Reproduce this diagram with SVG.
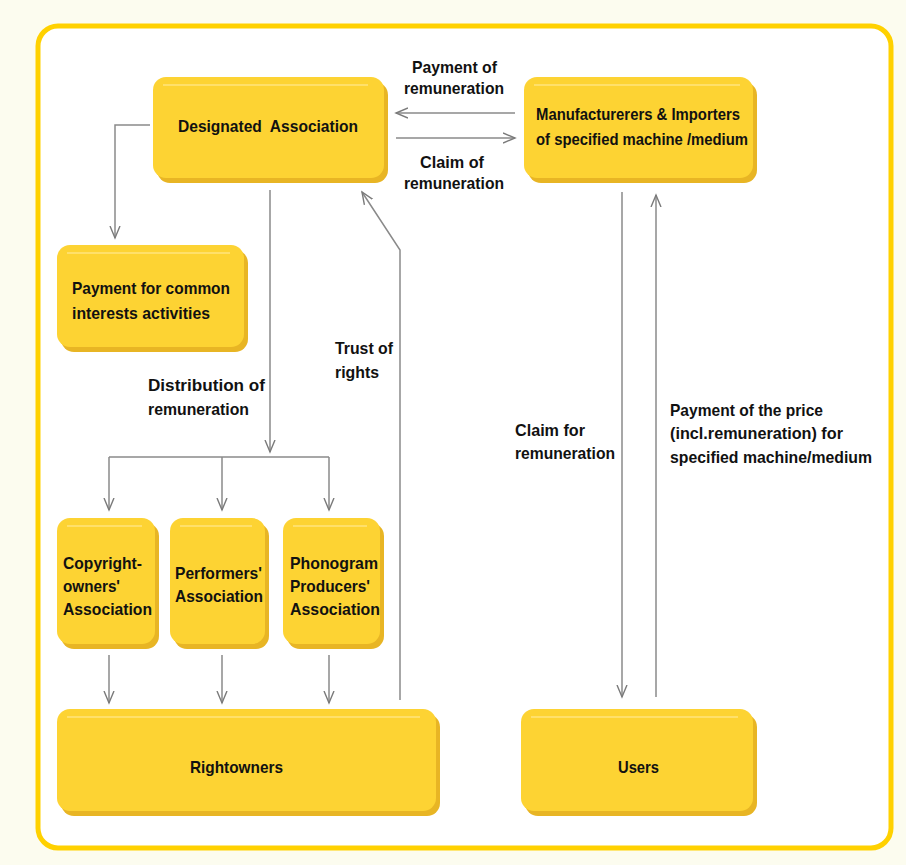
<svg xmlns="http://www.w3.org/2000/svg" width="906" height="865" viewBox="0 0 906 865">
<defs>
<style>
.bg{fill:#FCFCEF}
.frame{fill:#FFFFFF;stroke:#FFD100;stroke-width:5}
.back{fill:#E8B524}
.face{fill:#FDD333}
.hl{stroke:#FFE47E;stroke-width:1.5;fill:none}
.t{font-family:"Liberation Sans",Arial,sans-serif;font-weight:bold;font-size:17px;fill:#111}
.c{stroke:#8A8A8A;stroke-width:1.5;fill:none}
</style>
<marker id="ah" markerUnits="userSpaceOnUse" markerWidth="16" markerHeight="16" refX="12" refY="5" orient="auto" viewBox="0 0 16 10">
<path d="M0,0 L12,5 L0,10" fill="none" stroke="#7A7A7A" stroke-width="1.4"/>
</marker>
</defs>
<rect class="bg" x="0" y="0" width="906" height="865"/>
<rect class="frame" x="38" y="26" width="853" height="822" rx="20"/>

<g id="connectors">
<line class="c" x1="515" y1="113" x2="396" y2="113" marker-end="url(#ah)"/>
<line class="c" x1="396" y1="138" x2="515" y2="138" marker-end="url(#ah)"/>
<polyline class="c" points="150,125 115,125 115,238" marker-end="url(#ah)"/>
<line class="c" x1="270" y1="190" x2="270" y2="452" marker-end="url(#ah)"/>
<line class="c" x1="109" y1="457" x2="329" y2="457"/>
<line class="c" x1="109" y1="457" x2="109" y2="510" marker-end="url(#ah)"/>
<line class="c" x1="222" y1="457" x2="222" y2="510" marker-end="url(#ah)"/>
<line class="c" x1="329" y1="457" x2="329" y2="510" marker-end="url(#ah)"/>
<line class="c" x1="109" y1="655" x2="109" y2="703" marker-end="url(#ah)"/>
<line class="c" x1="222" y1="655" x2="222" y2="703" marker-end="url(#ah)"/>
<line class="c" x1="329" y1="655" x2="329" y2="703" marker-end="url(#ah)"/>
<polyline class="c" points="400,700 400,250 362,192" marker-end="url(#ah)"/>
<line class="c" x1="622" y1="192" x2="622" y2="697" marker-end="url(#ah)"/>
<line class="c" x1="656" y1="697" x2="656" y2="195" marker-end="url(#ah)"/>
<text class="t" x="412" y="73" textLength="85" lengthAdjust="spacingAndGlyphs">Payment of</text>
<text class="t" x="404" y="94" textLength="100" lengthAdjust="spacingAndGlyphs">remuneration</text>
<text class="t" x="420" y="168" textLength="64" lengthAdjust="spacingAndGlyphs">Claim of</text>
<text class="t" x="404" y="189" textLength="100" lengthAdjust="spacingAndGlyphs">remuneration</text>
<text class="t" x="335" y="354" textLength="58" lengthAdjust="spacingAndGlyphs">Trust of</text>
<text class="t" x="335" y="378" textLength="44" lengthAdjust="spacingAndGlyphs">rights</text>
<text class="t" x="148" y="391" textLength="117" lengthAdjust="spacingAndGlyphs">Distribution of</text>
<text class="t" x="148" y="415" textLength="101" lengthAdjust="spacingAndGlyphs">remuneration</text>
<text class="t" x="515" y="436" textLength="70" lengthAdjust="spacingAndGlyphs">Claim for</text>
<text class="t" x="515" y="459" textLength="100" lengthAdjust="spacingAndGlyphs">remuneration</text>
<text class="t" x="670" y="416" textLength="153" lengthAdjust="spacingAndGlyphs">Payment of the price</text>
<text class="t" x="670" y="439" textLength="173" lengthAdjust="spacingAndGlyphs">(incl.remuneration) for</text>
<text class="t" x="670" y="463" textLength="202" lengthAdjust="spacingAndGlyphs">specified machine/medium</text>
</g>

<g id="designated">
<rect class="back" x="157" y="82" width="231" height="101" rx="13"/>
<rect class="face" x="153" y="77" width="231" height="101" rx="13"/>
<line class="hl" x1="163" y1="85" x2="368" y2="85"/>
<text class="t" x="178" y="132" textLength="180" lengthAdjust="spacingAndGlyphs" xml:space="preserve">Designated  Association</text>
</g>

<g id="manufacturers">
<rect class="back" x="528" y="82" width="229" height="101" rx="13"/>
<rect class="face" x="524" y="77" width="229" height="101" rx="13"/>
<line class="hl" x1="534" y1="85" x2="740" y2="85"/>
<text class="t" x="536" y="120" textLength="204" lengthAdjust="spacingAndGlyphs">Manufacturerers &amp; Importers</text>
<text class="t" x="536" y="145" textLength="212" lengthAdjust="spacingAndGlyphs">of specified machine /medium</text>
</g>

<g id="common">
<rect class="back" x="61" y="250" width="187" height="102" rx="13"/>
<rect class="face" x="57" y="245" width="187" height="102" rx="13"/>
<line class="hl" x1="67" y1="253" x2="230" y2="253"/>
<text class="t" x="72" y="294" textLength="158" lengthAdjust="spacingAndGlyphs">Payment for common</text>
<text class="t" x="72" y="319" textLength="138" lengthAdjust="spacingAndGlyphs">interests activities</text>
</g>

<g id="copyright">
<rect class="back" x="61" y="523" width="98" height="126" rx="13"/>
<rect class="face" x="57" y="518" width="98" height="126" rx="13"/>
<line class="hl" x1="67" y1="526" x2="142" y2="526"/>
<text class="t" x="63" y="569" textLength="79" lengthAdjust="spacingAndGlyphs">Copyright-</text>
<text class="t" x="63" y="592" textLength="57" lengthAdjust="spacingAndGlyphs">owners'</text>
<text class="t" x="63" y="615" textLength="89" lengthAdjust="spacingAndGlyphs">Association</text>
</g>

<g id="performers">
<rect class="back" x="174" y="523" width="95" height="126" rx="13"/>
<rect class="face" x="170" y="518" width="95" height="126" rx="13"/>
<line class="hl" x1="180" y1="526" x2="252" y2="526"/>
<text class="t" x="175" y="579" textLength="87" lengthAdjust="spacingAndGlyphs">Performers'</text>
<text class="t" x="175" y="602" textLength="88" lengthAdjust="spacingAndGlyphs">Association</text>
</g>

<g id="phonogram">
<rect class="back" x="287" y="523" width="97" height="126" rx="13"/>
<rect class="face" x="283" y="518" width="97" height="126" rx="13"/>
<line class="hl" x1="293" y1="526" x2="367" y2="526"/>
<text class="t" x="290" y="569" textLength="88" lengthAdjust="spacingAndGlyphs">Phonogram</text>
<text class="t" x="290" y="592" textLength="80" lengthAdjust="spacingAndGlyphs">Producers'</text>
<text class="t" x="290" y="615" textLength="90" lengthAdjust="spacingAndGlyphs">Association</text>
</g>

<g id="rightowners">
<rect class="back" x="61" y="714" width="379" height="102" rx="13"/>
<rect class="face" x="57" y="709" width="379" height="102" rx="13"/>
<line class="hl" x1="67" y1="717" x2="420" y2="717"/>
<text class="t" x="190" y="773" textLength="93" lengthAdjust="spacingAndGlyphs">Rightowners</text>
</g>

<g id="users">
<rect class="back" x="525" y="714" width="232" height="102" rx="13"/>
<rect class="face" x="521" y="709" width="232" height="102" rx="13"/>
<line class="hl" x1="531" y1="717" x2="738" y2="717"/>
<text class="t" x="618" y="773" textLength="41" lengthAdjust="spacingAndGlyphs">Users</text>
</g>
</svg>
